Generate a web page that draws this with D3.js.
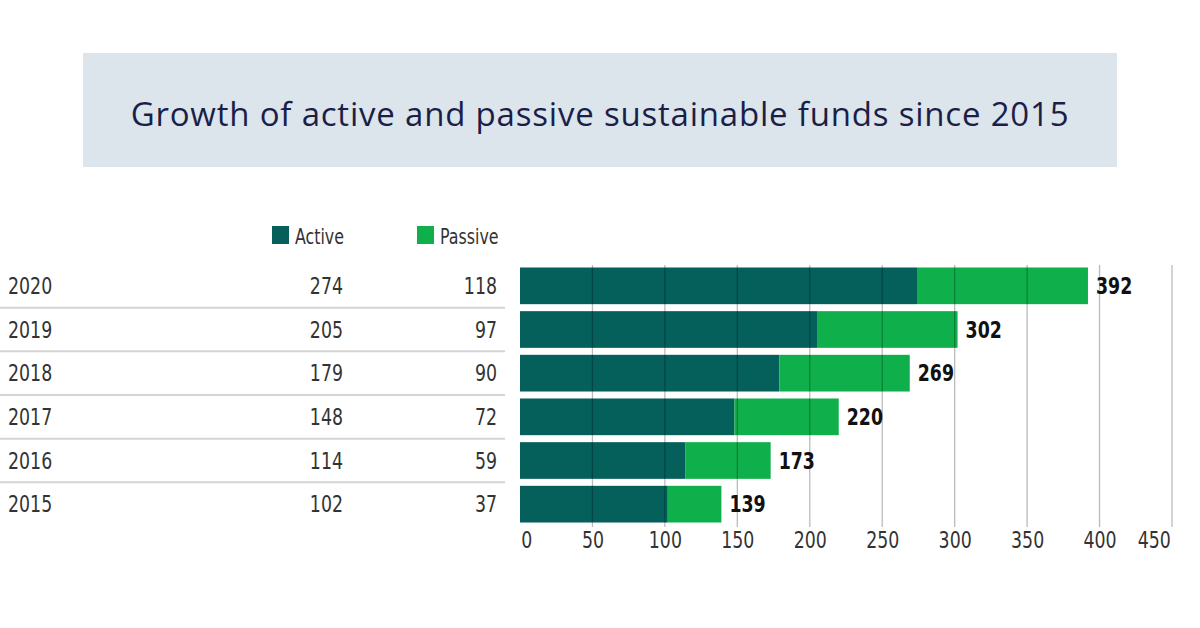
<!DOCTYPE html>
<html>
<head>
<meta charset="utf-8">
<script src="https://cdn.jsdelivr.net/npm/d3@7"></script>
<style>
  html, body { margin: 0; padding: 0; background: #ffffff; }
  svg { display: block; }
  .narrow { font-family: "Liberation Sans Narrow", "DejaVu Sans Condensed", "Roboto", sans-serif; font-stretch: condensed; }
</style>
</head>
<body>
<svg id="chart" width="1200" height="628"></svg>
<script>
const years = ["2020", "2019", "2018", "2017", "2016", "2015"];
const activeFunds = [274, 205, 179, 148, 114, 102];
const passiveFunds = [118, 97, 90, 72, 59, 37];
const tickValues = [0, 50, 100, 150, 200, 250, 300, 350, 400, 450];

const ACTIVE_COLOR = "#055f5b";
const PASSIVE_COLOR = "#0fb04b";
const TEXT_COLOR = "#333333";
const SQUEEZE = 0.84;

const svg = d3.select("#chart");

// place text at (x, y) squeezed horizontally, to mimic the condensed face
function squeezed(sel, xFn, yFn) {
  return sel.attr("transform", (d, i) => `translate(${xFn(d, i)},${yFn(d, i)}) scale(${SQUEEZE},1)`);
}

// title banner
svg.append("rect")
  .attr("x", 83).attr("y", 53)
  .attr("width", 1034).attr("height", 114)
  .attr("fill", "#dce5ec");

svg.append("text")
  .attr("x", 600).attr("y", 113)
  .attr("text-anchor", "middle")
  .attr("dominant-baseline", "central")
  .attr("font-family", "'Open Sans', Lato, sans-serif")
  .attr("font-size", 33)
  .attr("letter-spacing", 0.8)
  .attr("fill", "#1b1f48")
  .text("Growth of active and passive sustainable funds since 2015");

const rows = years.map((year, i) => ({
  year,
  active: activeFunds[i],
  passive: passiveFunds[i],
  total: activeFunds[i] + passiveFunds[i],
}));

const x = d3.scaleLinear().domain([0, 450]).range([520, 1172]);
const y = d3.scaleBand().domain(years).range([264, 526]).paddingInner(0.16).paddingOuter(0.08);
const rowMid = (d) => y(d.year) + y.bandwidth() / 2;

// left-side table
const table = svg.append("g").attr("class", "narrow");

table.selectAll("line.sep")
  .data(years.slice(1))
  .join("line")
  .attr("class", "sep")
  .attr("x1", 0).attr("x2", 505)
  .attr("y1", (d) => y(d) - (y.step() - y.bandwidth()) / 2)
  .attr("y2", (d) => y(d) - (y.step() - y.bandwidth()) / 2)
  .attr("stroke", "#d4d4d4")
  .attr("stroke-width", 2);

const columns = [
  { key: "year", x: 8, anchor: "start" },
  { key: "active", x: 343, anchor: "end" },
  { key: "passive", x: 497, anchor: "end" },
];

columns.forEach((col) => {
  table.append("g")
    .selectAll("text")
    .data(rows)
    .join("text")
    .call(squeezed, () => col.x, rowMid)
    .attr("dy", "0.36em")
    .attr("text-anchor", col.anchor)
    .attr("font-size", 23).attr("fill", TEXT_COLOR)
    .text((d) => d[col.key]);
});

// legend
const legend = svg.append("g").attr("class", "narrow");
const legendItems = [
  { label: "Active", color: ACTIVE_COLOR, x: 272 },
  { label: "Passive", color: PASSIVE_COLOR, x: 417 },
];
legend.selectAll("rect")
  .data(legendItems)
  .join("rect")
  .attr("x", (d) => d.x).attr("y", 226)
  .attr("width", 17).attr("height", 18)
  .attr("fill", (d) => d.color);
legend.selectAll("text")
  .data(legendItems)
  .join("text")
  .call(squeezed, (d) => d.x + 23, () => 236)
  .attr("dy", "0.36em")
  .attr("font-size", 21).attr("fill", TEXT_COLOR)
  .text((d) => d.label);

// bars
const bars = svg.append("g");
bars.selectAll("rect.active")
  .data(rows)
  .join("rect")
  .attr("class", "active")
  .attr("x", x(0))
  .attr("y", (d) => y(d.year))
  .attr("width", (d) => x(d.active) - x(0))
  .attr("height", y.bandwidth())
  .attr("fill", ACTIVE_COLOR);

bars.selectAll("rect.passive")
  .data(rows)
  .join("rect")
  .attr("class", "passive")
  .attr("x", (d) => x(d.active))
  .attr("y", (d) => y(d.year))
  .attr("width", (d) => x(d.total) - x(d.active))
  .attr("height", y.bandwidth())
  .attr("fill", PASSIVE_COLOR);

// gridlines drawn over the bars
svg.append("g")
  .selectAll("line")
  .data(tickValues.slice(1))
  .join("line")
  .attr("x1", (d) => x(d)).attr("x2", (d) => x(d))
  .attr("y1", 265).attr("y2", 527)
  .attr("stroke", "rgba(0,0,0,0.27)")
  .attr("stroke-width", 1.3);

// totals
svg.append("g").attr("class", "narrow")
  .selectAll("text")
  .data(rows)
  .join("text")
  .call(squeezed, (d) => x(d.total) + 8, rowMid)
  .attr("dy", "0.36em")
  .attr("font-size", 23).attr("font-weight", 700).attr("fill", "#111111")
  .text((d) => d.total);

// x axis
const axis = svg.append("g")
  .attr("class", "narrow")
  .attr("transform", "translate(0,528)")
  .call(d3.axisBottom(x).tickValues(tickValues).tickSize(0).tickPadding(4));
axis.attr("font-size", null).attr("font-family", null);
axis.select(".domain").remove();
axis.selectAll("text")
  .attr("font-size", 23)
  .attr("fill", TEXT_COLOR)
  .attr("transform", `scale(${SQUEEZE},1)`)
  .attr("text-anchor", (d) => (d === 0 ? "start" : d === 450 ? "end" : "middle"))
  .attr("dx", (d) => (d === 0 ? 1 : d === 450 ? -2 : 0));
</script>
</body>
</html>
